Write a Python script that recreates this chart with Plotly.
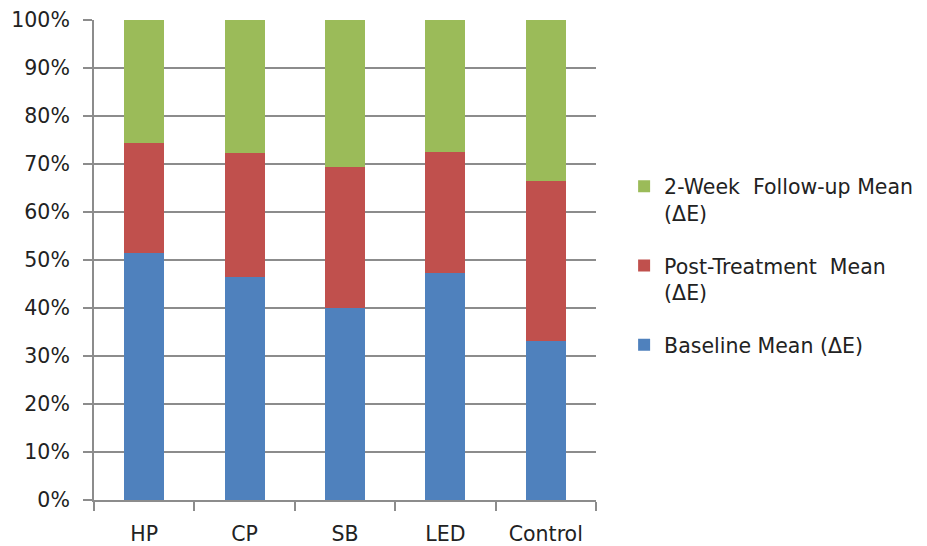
import plotly.graph_objects as go

# Share of each measurement in the total colour change per treatment group (%)
groups = ["HP", "CP", "SB", "LED", "Control"]
baseline = [51.4, 46.4, 40.1, 47.2, 33.1]
post_treatment = [22.9, 25.8, 29.2, 25.4, 33.3]
follow_up = [25.7, 27.8, 30.7, 27.4, 33.6]

series_names = [
    "Baseline Mean (ΔE)",
    "Post-Treatment  Mean<br>(ΔE)",
    "2-Week  Follow-up Mean<br>(ΔE)",
]
colors = ["#4F81BD", "#C0504D", "#9BBB59"]
legend_ranks = [3, 2, 1]
y_ticks = [0, 10, 20, 30, 40, 50, 60, 70, 80, 90, 100]
y_tick_labels = [f"{v}%" for v in y_ticks]

FONT = dict(family="DejaVu Sans", size=20.5, color="#222222")

fig = go.Figure()
series = [baseline, post_treatment, follow_up]
for i, (name, vals, col, rank) in enumerate(zip(series_names, series, colors, legend_ranks)):
    fig.add_trace(go.Bar(
        x=groups, y=vals, name=name,
        marker=dict(color=col, line=dict(width=0)),
        width=0.4,
        legendgroup=f"g{i}",
        legendrank=rank,
    ))

fig.update_layout(
    barmode="stack",
    barnorm="percent",
    width=927, height=546,
    margin=dict(l=94, r=331, t=20, b=46, autoexpand=False),
    paper_bgcolor="white", plot_bgcolor="white",
    font=FONT,
    showlegend=True,
    legend=dict(
        traceorder="grouped",
        x=1.056, xanchor="left", y=0.695, yanchor="top",
        font=FONT, valign="top",
        tracegroupgap=23,
        bgcolor="rgba(0,0,0,0)",
    ),
    xaxis=dict(
        type="category",
        tickson="boundaries",
        ticks="outside", ticklen=9, tickwidth=2, tickcolor="#8c8c8c",
        showline=True, linecolor="#8c8c8c", linewidth=2,
        showgrid=False,
        ticklabelstandoff=14,
        tickfont=FONT,
        automargin=False,
    ),
    yaxis=dict(
        range=[0, 100],
        tickmode="array",
        tickvals=y_ticks,
        ticktext=y_tick_labels,
        ticks="outside", ticklen=9, tickwidth=2, tickcolor="#8c8c8c",
        showline=True, linecolor="#8c8c8c", linewidth=2,
        showgrid=True, gridcolor="#8c8c8c", gridwidth=2,
        zeroline=False,
        ticklabelstandoff=9,
        tickfont=FONT,
        automargin=False,
    ),
)

fig.write_html("out.html")
